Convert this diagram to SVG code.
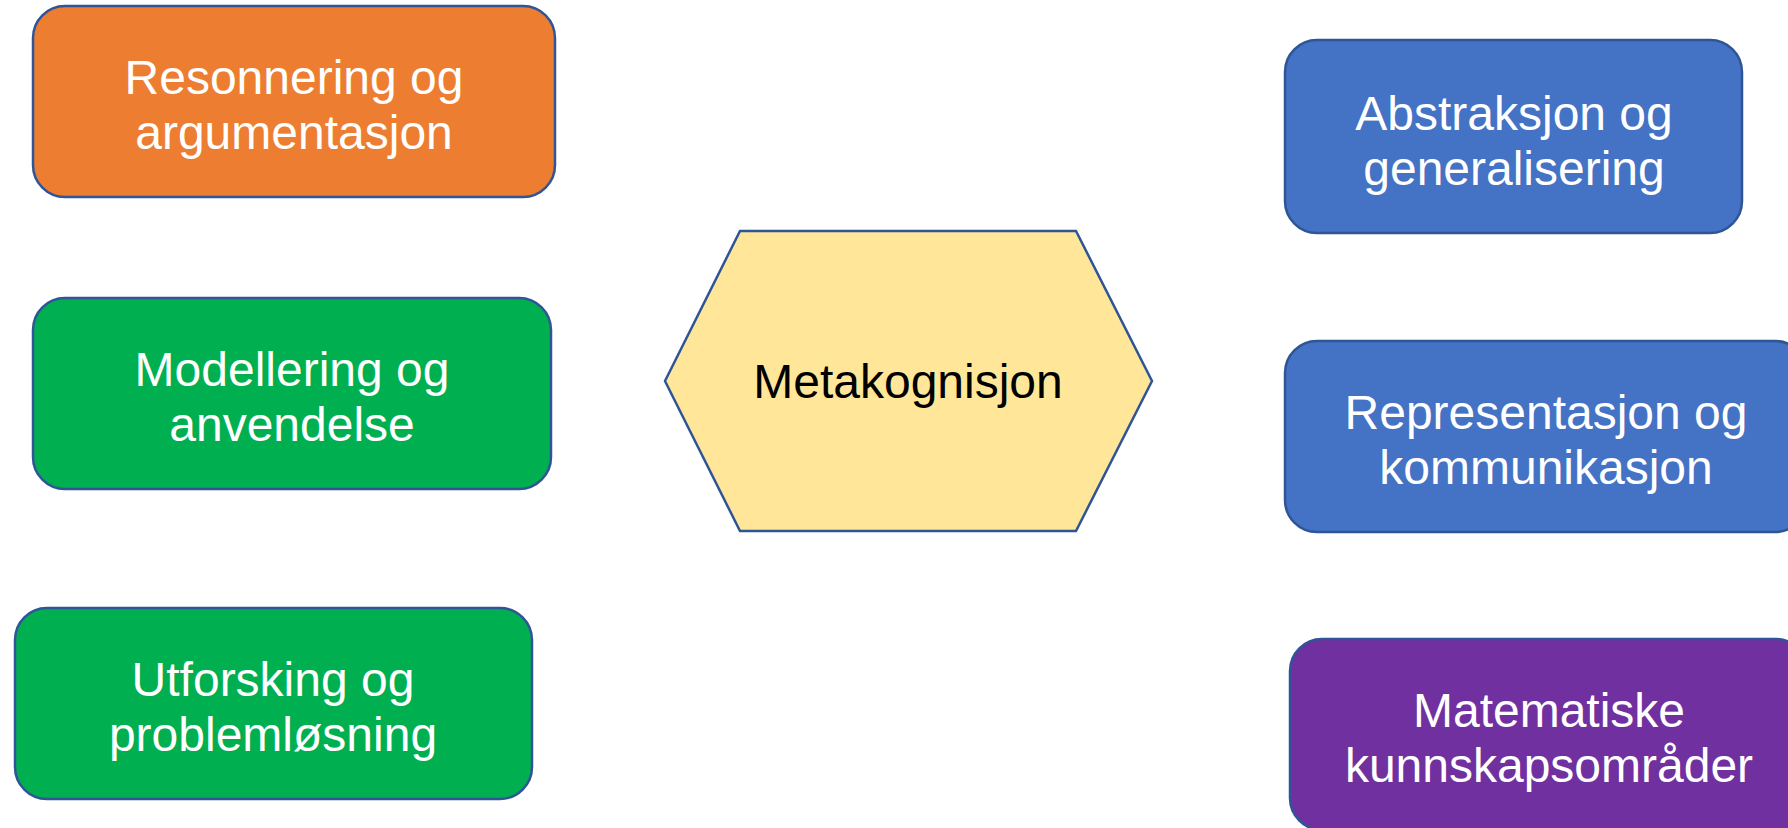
<svg xmlns="http://www.w3.org/2000/svg" width="1788" height="828" viewBox="0 0 1788 828">
<style>
.box{stroke:#2F5597;stroke-width:2.5}
.t{font-family:"Liberation Sans",Arial,sans-serif;font-size:48px;text-anchor:middle;fill:#FFFFFF}
.tk{fill:#000000}
</style>
<rect width="1788" height="828" fill="#FFFFFF"/>
<g id="connectors"></g>
<g id="resonnering">
<rect class="box" x="33" y="6" width="522" height="191" rx="32" fill="#ED7D31"/>
<text class="t" x="294" y="94">Resonnering og</text>
<text class="t" x="294" y="149">argumentasjon</text>
</g>
<g id="modellering">
<rect class="box" x="33" y="298" width="518" height="191" rx="32" fill="#00B050"/>
<text class="t" x="292" y="386">Modellering og</text>
<text class="t" x="292" y="441">anvendelse</text>
</g>
<g id="utforsking">
<rect class="box" x="15" y="608" width="517" height="191" rx="32" fill="#00B050"/>
<text class="t" x="273" y="696">Utforsking og</text>
<text class="t" x="273" y="751">problemløsning</text>
</g>
<g id="metakognisjon">
<polygon class="box" points="665,381 740,231 1076,231 1152,381 1076,531 740,531" fill="#FFE699"/>
<text class="t tk" x="908" y="398">Metakognisjon</text>
</g>
<g id="abstraksjon">
<rect class="box" x="1285" y="40" width="457" height="193" rx="32" fill="#4472C4"/>
<text class="t" x="1514" y="130">Abstraksjon og</text>
<text class="t" x="1514" y="185">generalisering</text>
</g>
<g id="representasjon">
<rect class="box" x="1285" y="341" width="522" height="191" rx="32" fill="#4472C4"/>
<text class="t" x="1546" y="429">Representasjon og</text>
<text class="t" x="1546" y="484">kommunikasjon</text>
</g>
<g id="matematiske">
<rect class="box" x="1290" y="639" width="518" height="191" rx="32" fill="#7030A0"/>
<text class="t" x="1549" y="727">Matematiske</text>
<text class="t" x="1549" y="782">kunnskapsområder</text>
</g>
</svg>
